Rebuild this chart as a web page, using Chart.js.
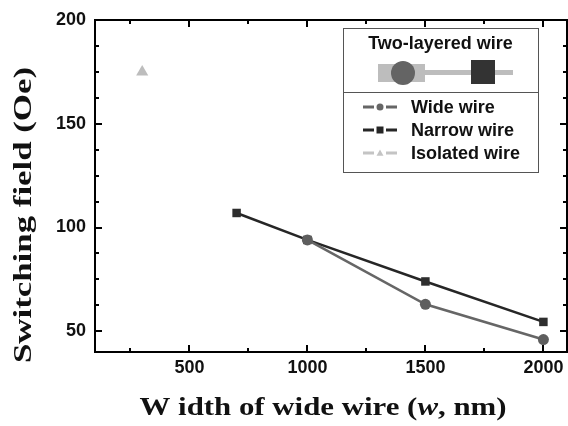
<!DOCTYPE html>
<html>
<head>
<meta charset="utf-8">
<script src="https://cdn.jsdelivr.net/npm/chart.js@4.4.1/dist/chart.umd.min.js"></script>
<style>
  html, body { margin: 0; padding: 0; background: #fff; }
  #wrap { width: 568px; height: 426px; }
</style>
</head>
<body>
<div id="wrap"><canvas id="chart"></canvas></div>
<script>
// data
const narrowWidthNm = [700, 1000, 1500, 2000];
const narrowWire = [107, 94, 74, 54.5];
const wideWidthNm = [1000, 1500, 2000];
const wideWire = [94, 63, 46];
const isolatedWidthNm = [300];
const isolatedWire = [175];

const xTickValues = [250, 500, 750, 1000, 1250, 1500, 1750, 2000];
const yTickValues = [50, 62.5, 75, 87.5, 100, 112.5, 125, 137.5, 150, 162.5, 175, 187.5, 200];
const seriesNames = ['Wide wire', 'Narrow wire', 'Isolated wire'];
const seriesColors = ['#666666', '#262626', '#c4c4c4'];
const seriesMarkers = ['circle', 'rect', 'triangle'];

const toPoints = (xs, ys) => xs.map((x, i) => ({ x: x, y: ys[i] }));

const SERIF = "'Liberation Serif', 'Times New Roman', serif";
const SANS = "'Liberation Sans', Arial, sans-serif";

// draws the box frame with inward ticks on all four sides
const framePlugin = {
    id: 'frame',
    afterDatasetsDraw(chart) {
        const ctx = chart.ctx;
        const { left, right, top, bottom } = chart.chartArea;
        const xs = chart.scales.x, ys = chart.scales.y;
        ctx.save();
        ctx.strokeStyle = '#000';
        ctx.lineWidth = 2;
        ctx.strokeRect(left, top, right - left, bottom - top);
        ctx.beginPath();
        xTickValues.forEach(v => {
            const px = Math.round(xs.getPixelForValue(v));
            const len = v % 500 === 0 ? 7 : 4;
            ctx.moveTo(px, bottom); ctx.lineTo(px, bottom - len);
            ctx.moveTo(px, top); ctx.lineTo(px, top + len);
        });
        yTickValues.forEach(v => {
            const py = Math.round(ys.getPixelForValue(v));
            const len = v % 50 === 0 ? 7 : 4;
            ctx.moveTo(left, py); ctx.lineTo(left + len, py);
            ctx.moveTo(right, py); ctx.lineTo(right - len, py);
        });
        ctx.stroke();
        ctx.restore();
    }
};

// axis titles (x title has an italic w); the original type is a bit stretched
const titlePlugin = {
    id: 'titles',
    afterDraw(chart) {
        const ctx = chart.ctx;
        ctx.save();
        ctx.fillStyle = '#111';
        ctx.textBaseline = 'middle';

        const parts = [
            { t: 'W idth of wide wire (', f: 'bold 26px ' + SERIF },
            { t: 'w', f: 'italic bold 26px ' + SERIF },
            { t: ', nm)', f: 'bold 26px ' + SERIF }
        ];
        let total = 0;
        parts.forEach(p => { ctx.font = p.f; p.w = ctx.measureText(p.t).width; total += p.w; });
        const sx = 367 / total;
        ctx.save();
        ctx.translate(323 - 367 / 2, 408);
        ctx.scale(sx, 1);
        let x = 0;
        parts.forEach(p => { ctx.font = p.f; ctx.textAlign = 'left'; ctx.fillText(p.t, x, 0); x += p.w; });
        ctx.restore();

        const yTitle = 'Switching field (Oe)';
        ctx.font = 'bold 26px ' + SERIF;
        const sy = 296 / ctx.measureText(yTitle).width;
        ctx.translate(24, 215);
        ctx.rotate(-Math.PI / 2);
        ctx.scale(sy, 1);
        ctx.textAlign = 'center';
        ctx.fillText(yTitle, 0, 0);
        ctx.restore();
    }
};

function drawMarker(ctx, type, x, y, r, color) {
    ctx.fillStyle = color;
    ctx.beginPath();
    if (type === 'circle') {
        ctx.arc(x, y, r, 0, Math.PI * 2);
    } else if (type === 'rect') {
        ctx.rect(x - r, y - r, r * 2, r * 2);
    } else {
        ctx.moveTo(x, y - r);
        ctx.lineTo(x + r, y + r * 0.8);
        ctx.lineTo(x - r, y + r * 0.8);
        ctx.closePath();
    }
    ctx.fill();
}

// boxed legend with the two-layered wire sketch
const legendPlugin = {
    id: 'boxLegend',
    afterDraw(chart) {
        const ctx = chart.ctx;
        const bx = 343, by = 28, bw = 195, bh = 144;
        ctx.save();
        ctx.fillStyle = '#fff';
        ctx.fillRect(bx, by, bw, bh);
        ctx.strokeStyle = '#555';
        ctx.lineWidth = 1;
        ctx.strokeRect(bx + 0.5, by + 0.5, bw, bh);
        ctx.beginPath();
        ctx.moveTo(bx, 92.5); ctx.lineTo(bx + bw, 92.5);
        ctx.stroke();

        ctx.fillStyle = '#111';
        ctx.font = 'bold 18px ' + SANS;
        ctx.textAlign = 'center';
        ctx.textBaseline = 'middle';
        ctx.fillText('Two-layered wire', bx + bw / 2, 44);

        // sketch of the two-layered wire
        ctx.fillStyle = '#bdbdbd';
        ctx.fillRect(378, 64, 47, 18);
        ctx.fillRect(425, 70, 88, 5);
        ctx.fillStyle = '#646464';
        ctx.beginPath(); ctx.arc(403, 73, 12, 0, Math.PI * 2); ctx.fill();
        ctx.fillStyle = '#333';
        ctx.fillRect(471, 60, 24, 24);

        // series entries
        ctx.textAlign = 'left';
        ctx.font = 'bold 18px ' + SANS;
        seriesNames.forEach((name, i) => {
            const y = 107 + i * 23;
            const c = seriesColors[i];
            ctx.strokeStyle = c;
            ctx.lineWidth = 3;
            ctx.beginPath();
            ctx.moveTo(363, y); ctx.lineTo(374, y);
            ctx.moveTo(386, y); ctx.lineTo(397, y);
            ctx.stroke();
            drawMarker(ctx, seriesMarkers[i], 380, y, 3.5, c);
            ctx.fillStyle = '#111';
            ctx.fillText(name, 411, y + 1);
        });
        ctx.restore();
    }
};

new Chart(document.getElementById('chart'), {
    type: 'line',
    data: {
        datasets: [
            {
                label: seriesNames[1],
                data: toPoints(narrowWidthNm, narrowWire),
                borderColor: seriesColors[1],
                backgroundColor: '#2e2e2e',
                borderWidth: 2.5,
                pointStyle: 'rect',
                pointRadius: 6,
                pointBorderWidth: 0,
                order: 2
            },
            {
                label: seriesNames[0],
                data: toPoints(wideWidthNm, wideWire),
                borderColor: seriesColors[0],
                backgroundColor: '#5e5e5e',
                borderWidth: 2.5,
                pointStyle: 'circle',
                pointRadius: 5.5,
                pointBorderWidth: 0,
                order: 1
            },
            {
                label: seriesNames[2],
                data: toPoints(isolatedWidthNm, isolatedWire),
                borderColor: seriesColors[2],
                backgroundColor: '#bdbdbd',
                pointStyle: 'triangle',
                pointRadius: 7,
                pointBorderWidth: 0,
                showLine: false,
                order: 3
            }
        ]
    },
    options: {
        responsive: true,
        maintainAspectRatio: false,
        animation: false,
        layout: { autoPadding: false, padding: { top: 20, right: 1, left: 0, bottom: 0 } },
        plugins: {
            legend: { display: false },
            tooltip: { enabled: false }
        },
        scales: {
            x: {
                type: 'linear',
                min: 100,
                max: 2100,
                afterBuildTicks: (scale) => { scale.ticks = xTickValues.map(v => ({ value: v })); },
                afterFit: (scale) => { scale.height = 74; scale.paddingRight = 0; scale.paddingLeft = 0; },
                grid: { display: false, drawTicks: false },
                border: { display: false },
                ticks: {
                    color: '#111',
                    font: { family: SANS, size: 18, weight: 'bold' },
                    padding: 5,
                    maxRotation: 0,
                    autoSkip: false,
                    callback: (v) => (v % 500 === 0 ? String(v) : '')
                }
            },
            y: {
                min: 40,
                max: 200,
                afterBuildTicks: (scale) => { scale.ticks = yTickValues.map(v => ({ value: v })); },
                afterFit: (scale) => { scale.width = 95; scale.paddingTop = 0; scale.paddingBottom = 0; },
                grid: { display: false, drawTicks: false },
                border: { display: false },
                ticks: {
                    color: '#111',
                    font: { family: SANS, size: 18, weight: 'bold' },
                    padding: 9,
                    autoSkip: false,
                    callback: (v) => (v % 50 === 0 ? String(v) : '')
                }
            }
        }
    },
    plugins: [framePlugin, titlePlugin, legendPlugin]
});
</script>
</body>
</html>
